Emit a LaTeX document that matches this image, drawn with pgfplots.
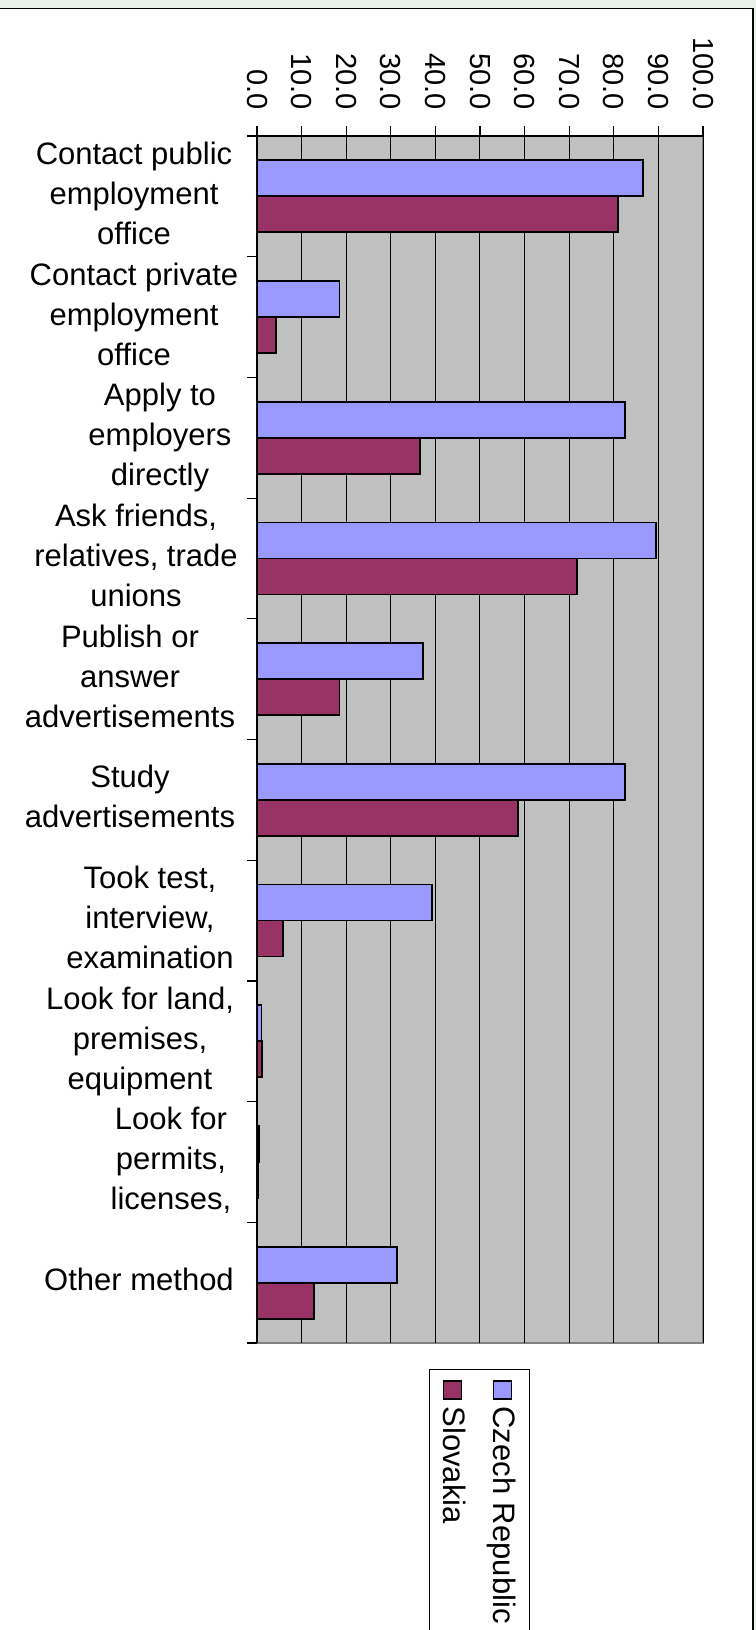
\documentclass[border=0pt]{standalone}
\usepackage{fontspec}
\setmainfont{Liberation Sans}
\usepackage{graphicx}
\usepackage{pgfplots}
\pgfplotsset{compat=1.18}
\definecolor{czech}{RGB}{153,153,255}
\definecolor{slovak}{RGB}{153,51,102}
\definecolor{plotbg}{RGB}{192,192,192}
\definecolor{framebg}{RGB}{232,241,234}
\newcommand{\lab}[2]{\begin{tabular}{@{}c@{}}#2\end{tabular}\hspace*{#1}}
\newcommand{\legtext}[1]{\rotatebox{-90}{\hspace*{-1.25pt}\rule[-5pt]{0pt}{21pt}#1}}
\begin{document}
\begin{tikzpicture}
\useasboundingbox (0,0) rectangle (378pt,-815pt);
\fill[framebg] (0,0) rectangle (378pt,-815pt);
\draw[fill=white, line width=0.8pt] (-5pt,-4.2pt) rectangle (376.6pt,-830pt);
\begin{axis}[
  at={(128.5pt,-68pt)}, anchor=north west,
  scale only axis, width=223pt, height=603.5pt,
  xbar, bar width=18pt,
  xmin=0, xmax=100, ymin=-0.5, ymax=9.5,
  axis x line*=top, axis y line*=left,
  axis line style={black, line width=0.6pt},
  axis background/.style={fill=plotbg, draw=gray, line width=0.8pt},
  xmajorgrids, grid style={black, line width=0.5pt},
  xtick={0,10,20,30,40,50,60,70,80,90,100},
  tick align=outside, major tick length=5pt,
  tick style={black, line width=0.6pt},
  xticklabel style={rotate=-90, anchor=east, inner sep=0pt, font=\fontsize{14.5}{16}\selectfont},
  xticklabel shift=7.75pt,
  /pgf/number format/.cd, fixed, fixed zerofill, precision=1, assume math mode=true, /pgfplots/.cd,
  ytick={-0.5,0.5,1.5,2.5,3.5,4.5,5.5,6.5,7.5,8.5,9.5},
  yticklabels={
    \lab{32pt}{Other method},
    \lab{0pt}{Look for\\permits,\\licenses,},
    \lab{31pt}{Look for land,\\premises,\\equipment},
    \lab{21pt}{Took test,\\interview,\\examination},
    \lab{41pt}{Study\\advertisements},
    \lab{41pt}{Publish or\\answer\\advertisements},
    \lab{35pt}{Ask friends,\\relatives, trade\\unions},
    \lab{11pt}{Apply to\\employers\\directly},
    \lab{37pt}{Contact private\\employment\\office},
    \lab{37pt}{Contact public\\employment\\office},
    {}},
  yticklabel style={anchor=center, yshift=30.175pt, inner sep=0pt, font=\fontsize{15.5}{20}\selectfont},
  yticklabel shift=38pt,
  legend columns=2, legend reversed,
  legend style={at={(0.6121,-0.02154)}, anchor=north east, draw=black, line width=0.5pt, fill=white,
    font=\fontsize{15.5}{18}\selectfont, inner xsep=2pt, inner ysep=19.5pt,
    nodes={inner sep=0pt, text depth=}, cells={anchor=north west},
    /tikz/every even column/.append style={column sep=4pt}},
  legend image code/.code={\draw[#1, overlay] (5pt,4.85pt) rectangle (14pt,13.65pt);},
]
\addplot[fill=czech, draw=black, line width=0.9pt, bar shift=9pt] coordinates {
  (86.5,9) (18.5,8) (82.5,7) (89.4,6) (37.2,5) (82.5,4) (39.3,3) (1.0,2) (0.4,1) (31.4,0)};
\addplot[fill=slovak, draw=black, line width=0.9pt, bar shift=-9pt] coordinates {
  (81.0,9) (4.3,8) (36.6,7) (71.8,6) (18.5,5) (58.5,4) (5.8,3) (1.1,2) (0.3,1) (12.7,0)};
\legend{\legtext{Czech Republic}, \legtext{Slovakia}}
\end{axis}
\end{tikzpicture}
\end{document}
